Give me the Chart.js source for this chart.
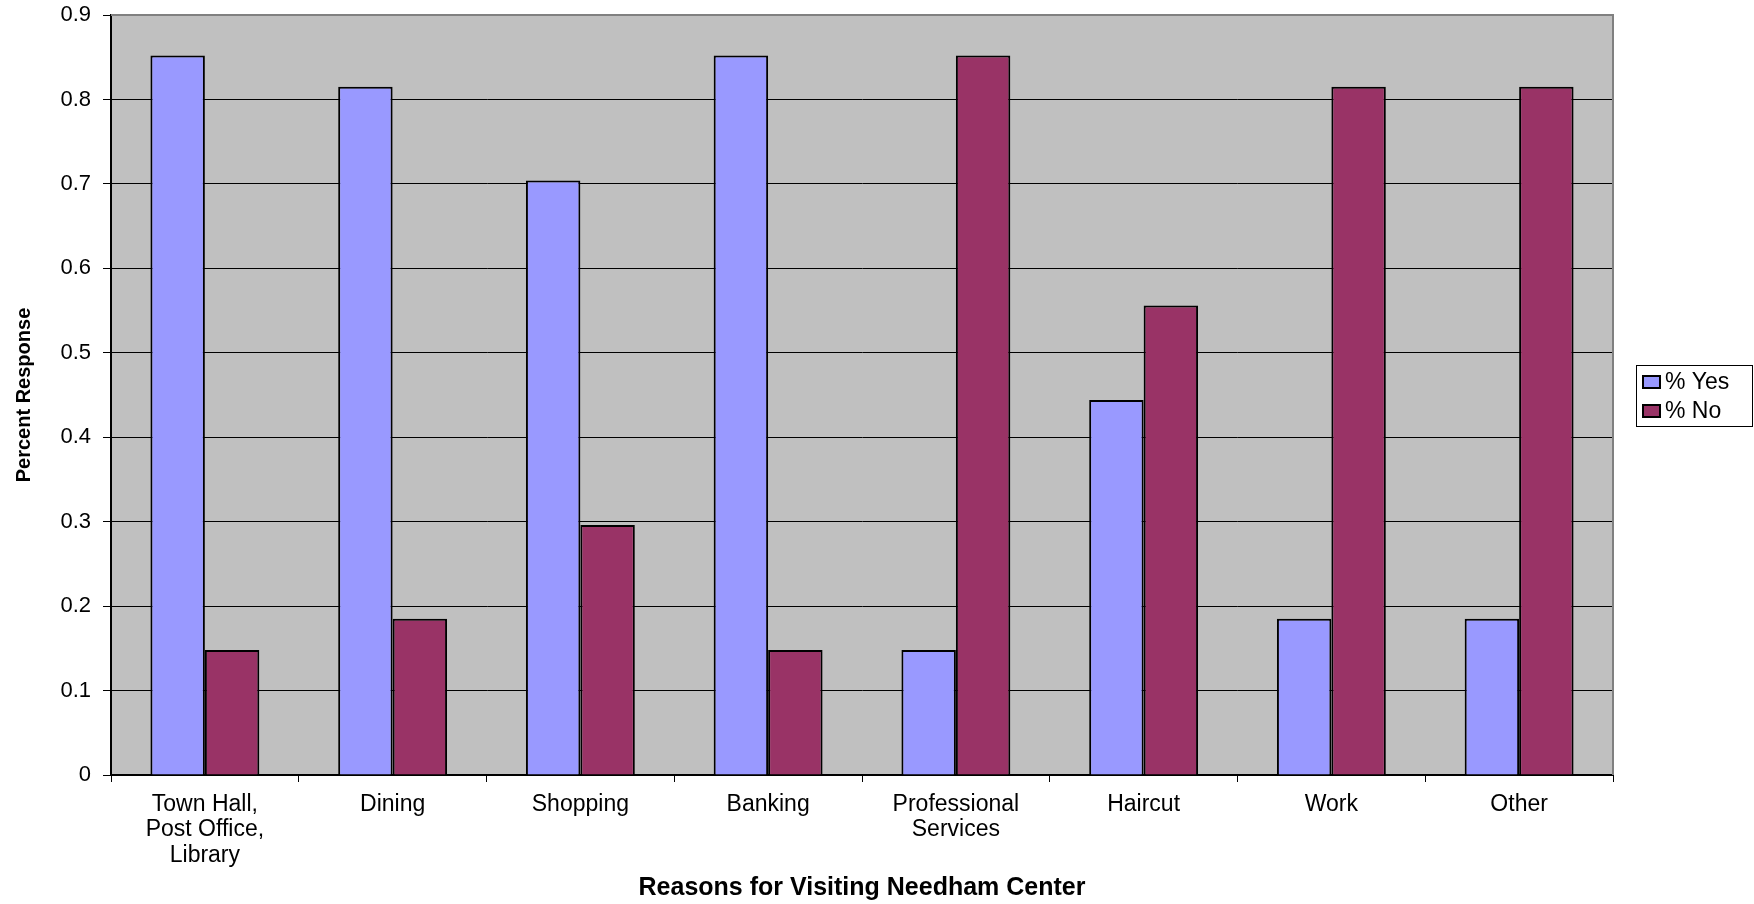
<!DOCTYPE html>
<html>
<head>
<meta charset="utf-8">
<script src="https://cdn.jsdelivr.net/npm/chart.js@4.4.1/dist/chart.umd.min.js"></script>
<style>
  html, body { margin: 0; padding: 0; background: #ffffff; }
  #wrap { width: 1754px; height: 904px; }
</style>
</head>
<body>
<div id="wrap"><canvas id="chart" width="1754" height="904"></canvas></div>
<script>
// Survey: reasons for visiting Needham Center (share of responses)
const categories = [
  ["Town Hall,", "Post Office,", "Library"],
  "Dining",
  "Shopping",
  "Banking",
  ["Professional", "Services"],
  "Haircut",
  "Work",
  "Other"
];
const yesShare = [0.852, 0.815, 0.704, 0.852, 0.148, 0.444, 0.185, 0.185];
const noShare  = [0.148, 0.185, 0.296, 0.148, 0.852, 0.556, 0.815, 0.815];
const yTicks   = [0, 0.1, 0.2, 0.3, 0.4, 0.5, 0.6, 0.7, 0.8, 0.9];
const seriesNames = ["% Yes", "% No"];
const seriesColors = ["#9999FF", "#993366"];

const FONT = "'Liberation Sans', Arial, sans-serif";

// Grey plot background plus the grey frame on top and right
const plotFrame = {
  id: 'plotFrame',
  beforeDraw(chart) {
    const { ctx, chartArea: a } = chart;
    ctx.save();
    ctx.fillStyle = '#C0C0C0';
    ctx.fillRect(a.left, a.top, a.right - a.left, a.bottom - a.top);
    ctx.restore();
  },
  afterDatasetsDraw(chart) {
    const { ctx, chartArea: a } = chart;
    ctx.save();
    ctx.strokeStyle = '#808080';
    ctx.lineWidth = 2;
    ctx.beginPath();
    ctx.moveTo(a.left, a.top);
    ctx.lineTo(a.right, a.top);
    ctx.lineTo(a.right, a.bottom);
    ctx.stroke();
    ctx.restore();
  }
};

// Boxed legend at the right side
const boxedLegend = {
  id: 'boxedLegend',
  afterDraw(chart) {
    const { ctx } = chart;
    const x = 1636, y = 365, w = 116, h = 61;
    ctx.save();
    ctx.fillStyle = '#ffffff';
    ctx.fillRect(x, y, w, h);
    ctx.strokeStyle = '#000000';
    ctx.lineWidth = 1;
    ctx.strokeRect(x + 0.5, y + 0.5, w, h);
    ctx.font = '23px ' + FONT;
    ctx.textBaseline = 'middle';
    chart.data.datasets.forEach((ds, i) => {
      const cy = 382 + i * 29;
      ctx.fillStyle = ds.backgroundColor;
      ctx.fillRect(1643, cy - 6, 17, 12);
      ctx.strokeStyle = '#000000';
      ctx.lineWidth = 2;
      ctx.strokeRect(1643, cy - 6, 17, 12);
      ctx.fillStyle = '#000000';
      ctx.fillText(ds.label, 1665, cy + 1);
    });
    ctx.restore();
  }
};

new Chart(document.getElementById('chart'), {
  type: 'bar',
  data: {
    labels: categories,
    datasets: [
      { label: seriesNames[0], data: yesShare, backgroundColor: seriesColors[0], borderColor: '#000000', borderWidth: 2 },
      { label: seriesNames[1], data: noShare,  backgroundColor: seriesColors[1], borderColor: '#000000', borderWidth: 2 }
    ]
  },
  options: {
    responsive: false,
    animation: false,
    devicePixelRatio: 1,
    layout: { padding: { top: 15, right: 141, left: 0, bottom: 0 } },
    datasets: { bar: { categoryPercentage: 0.58, barPercentage: 1.0 } },
    plugins: {
      legend: { display: false },
      tooltip: { enabled: false }
    },
    scales: {
      x: {
        afterFit(s) { s.height = 129; },
        grid: { drawOnChartArea: false, drawTicks: true, tickLength: 7, tickColor: '#000000', offset: true },
        border: { color: '#000000', width: 2 },
        ticks: {
          color: '#000000',
          font: { family: FONT, size: 23, lineHeight: 1.1 },
          padding: 10,
          maxRotation: 0,
          autoSkip: false
        },
        title: {
          display: true,
          text: 'Reasons for Visiting Needham Center',
          color: '#000000',
          font: { family: FONT, size: 25, weight: 'bold', lineHeight: 1.2 },
          padding: { top: 0, bottom: 1 }
        }
      },
      y: {
        min: 0,
        max: 0.9,
        afterFit(s) { s.width = 111; s.paddingTop = 0; s.paddingBottom = 0; },
        afterBuildTicks(s) { s.ticks = yTicks.map(v => ({ value: v })); },
        grid: { color: '#000000', lineWidth: 1, drawTicks: true, tickLength: 8, tickColor: '#000000' },
        border: { color: '#000000', width: 2 },
        ticks: {
          color: '#000000',
          font: { family: FONT, size: 22 },
          padding: 12,
          callback: (v) => String(v)
        },
        title: {
          display: true,
          text: 'Percent Response',
          color: '#000000',
          font: { family: FONT, size: 20, weight: 'bold', lineHeight: 1.0 },
          padding: { top: 14, bottom: 0 }
        }
      }
    }
  },
  plugins: [plotFrame, boxedLegend]
});
</script>
</body>
</html>
